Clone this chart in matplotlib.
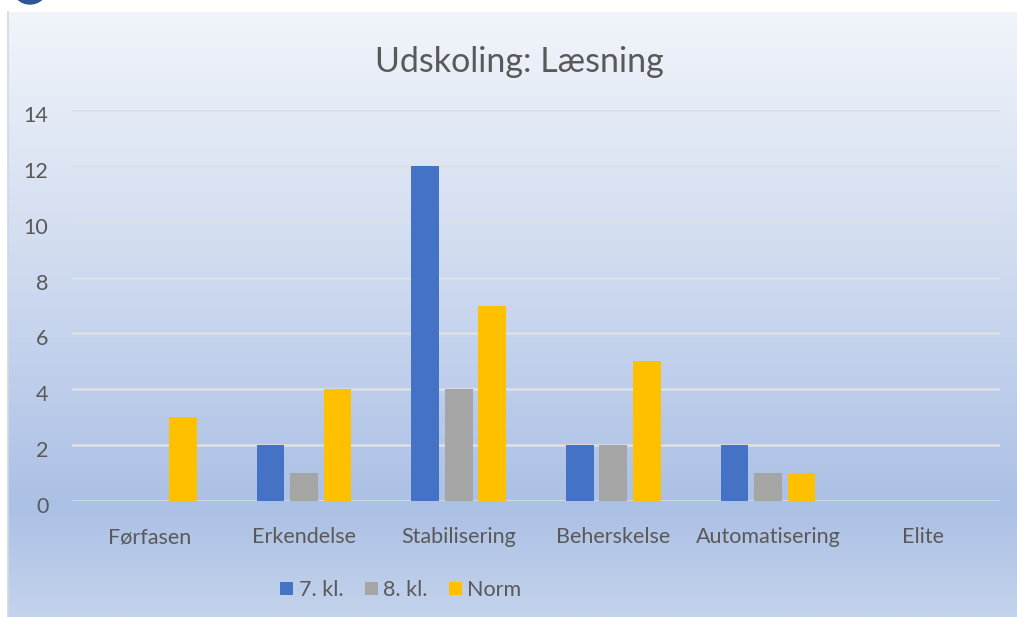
import numpy as np
import matplotlib
matplotlib.use('Agg')
import matplotlib.pyplot as plt
import matplotlib.transforms as mtransforms
from matplotlib.colors import LinearSegmentedColormap
from matplotlib.patches import Circle

plt.rcParams['font.family'] = ['Lato', 'DejaVu Sans']

# data
categories = ['Førfasen', 'Erkendelse', 'Stabilisering', 'Beherskelse', 'Automatisering', 'Elite']
kl7 = [0, 2, 12, 2, 2, 0]
kl8 = [0, 1, 4, 2, 1, 0]
norm = [3, 4, 7, 5, 1, 0]
series_names = ['7. kl.', '8. kl.', 'Norm']
colors = ['#4472C4', '#A5A5A5', '#FFC000']
txt = '#595959'

W, H = 1017, 617
fig = plt.figure(figsize=(W / 100, H / 100), dpi=100)
fig.patch.set_facecolor('white')

# background gradient panel
bg = fig.add_axes([0, 0, 1, 1], zorder=0)
bg.set_xlim(0, W)
bg.set_ylim(H, 0)
bg.axis('off')
cmap = LinearSegmentedColormap.from_list('g', [(0, '#f1f4fa'), (0.45, '#cdd9ef'),
                                               (0.82, '#abc0e5'), (1, '#c4d3ec')])
grad = np.linspace(0, 1, 256).reshape(-1, 1)
bg.imshow(grad, cmap=cmap, aspect='auto', extent=(8, W, H, 12), zorder=0)
bg.plot([8, 8], [12, H], color='#d0d8e6', lw=1.2, zorder=1)
bg.add_patch(Circle((30, -14), 18, color='#2f5597', zorder=2, clip_on=False))

ax = fig.add_axes([72 / W, (H - 501) / H, (1000 - 72) / W, (501 - 110) / H], zorder=1)
ax.patch.set_alpha(0)
x = np.arange(len(categories))
bw = 0.18
off = 0.217
for i, (vals, name) in enumerate(zip([kl7, kl8, norm], series_names)):
    ax.bar(x + (i - 1) * off, vals, width=bw, color=colors[i], label=name, zorder=3)

ax.set_xlim(-0.5, len(categories) - 0.5)
ax.set_ylim(0, 14)
ax.set_yticks(range(0, 15, 2))
ax.yaxis.grid(True, color='#dde0e5', lw=1.8, zorder=1)
ax.set_axisbelow(True)
for s in ax.spines.values():
    s.set_visible(False)
ax.tick_params(length=0, labelsize=15.5, colors=txt)
ax.tick_params(axis='y', pad=17)
ax.tick_params(axis='x', pad=19)
ax.set_xticks(x)
ax.set_xticklabels(categories)

# y labels sit a few px below their gridlines in the original
shift = mtransforms.ScaledTranslation(0, -4 / 100, fig.dpi_scale_trans)
for lbl in ax.get_yticklabels():
    lbl.set_transform(lbl.get_transform() + shift)

fig.text(519 / W, 1 - 62 / H, 'Udskoling: Læsning', ha='center', va='center',
         fontsize=24.5, color=txt)

leg = fig.legend(loc='center', bbox_to_anchor=(401 / W, 1 - 590 / H), ncol=3,
                 frameon=False, fontsize=15.5, handlelength=0.6, handleheight=0.6,
                 handletextpad=0.25, columnspacing=1.0)
for t in leg.get_texts():
    t.set_color(txt)

fig.savefig('out.png', dpi=100)
